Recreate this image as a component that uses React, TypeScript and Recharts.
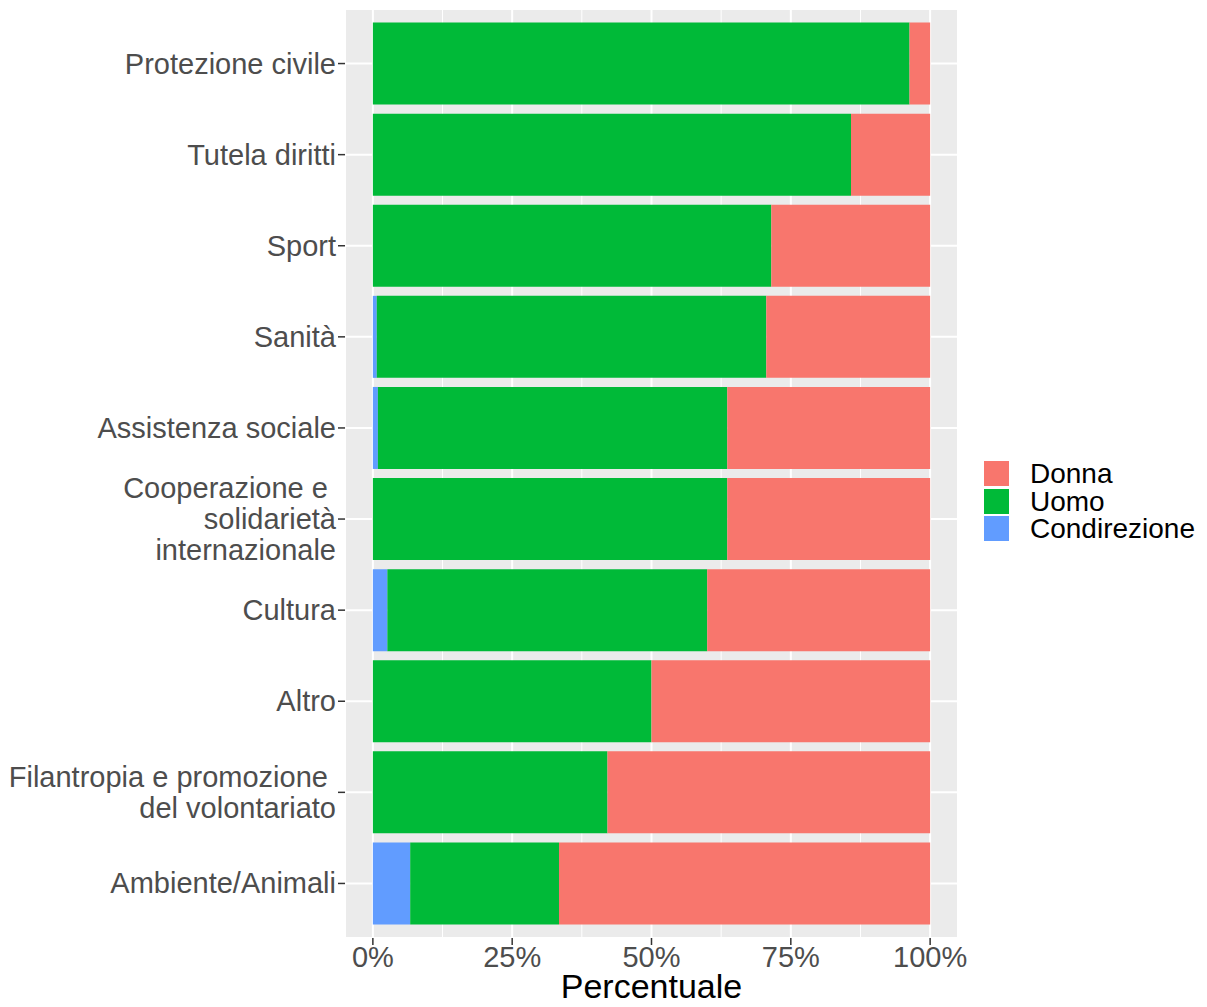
import { Bar, BarChart, CartesianGrid, XAxis, YAxis } from 'recharts'

const categories = [
  'Protezione civile',
  'Tutela diritti',
  'Sport',
  'Sanità',
  'Assistenza sociale',
  'Cooperazione e \nsolidarietà\ninternazionale',
  'Cultura',
  'Altro',
  'Filantropia e promozione \ndel volontariato',
  'Ambiente/Animali',
]

const condirezione = [0, 0, 0, 0.7, 0.9, 0, 2.6, 0, 0, 6.7]
const uomo = [96.3, 85.8, 71.5, 69.9, 62.7, 63.6, 57.4, 50.0, 42.1, 26.7]
const donna = [3.7, 14.2, 28.5, 29.4, 36.4, 36.4, 40.0, 50.0, 57.9, 66.6]

const majorTicks = [0, 25, 50, 75, 100]
const minorTicks = [12.5, 37.5, 62.5, 87.5]

const series = [
  { key: 'condirezione', name: 'Condirezione', color: '#619CFF' },
  { key: 'uomo', name: 'Uomo', color: '#00BA38' },
  { key: 'donna', name: 'Donna', color: '#F8766D' },
]

const legendOrder = ['donna', 'uomo', 'condirezione']

const data = categories.map((name, i) => ({
  name,
  condirezione: condirezione[i],
  uomo: uomo[i],
  donna: donna[i],
}))

const FONT = '"Liberation Sans", Arial, Helvetica, sans-serif'

function CategoryTick(props: any) {
  const { x, y, payload } = props
  const lines = String(payload.value).split('\n')
  const lh = 31
  const start = -((lines.length - 1) * lh) / 2
  return (
    <text x={x + 1} y={y} textAnchor="end" fill="#4D4D4D" fontSize={29} fontFamily={FONT}>
      {lines.map((l, i) => (
        <tspan key={i} x={x + 1} dy={i === 0 ? start + 10 : lh} style={{ whiteSpace: 'pre' }}>
          {l}
        </tspan>
      ))}
    </text>
  )
}

export default function App() {
  return (
    <div
      style={{
        position: 'absolute',
        left: 0,
        top: 0,
        width: 1207,
        height: 1007,
        background: '#fff',
        fontFamily: FONT,
      }}
    >
      <BarChart
        width={1207}
        height={1007}
        data={data}
        layout="vertical"
        barCategoryGap="5%"
        margin={{ top: 9, right: 249, bottom: 0, left: 0 }}
      >
        <CartesianGrid fill="#EBEBEB" stroke="#FFFFFF" strokeWidth={2} />
        <CartesianGrid xAxisId="minor" stroke="#FFFFFF" strokeWidth={1} horizontal={false} />
        <XAxis
          type="number"
          domain={[-5, 105]}
          ticks={majorTicks}
          allowDataOverflow
          tickFormatter={(v: number) => `${v}%`}
          axisLine={false}
          tickSize={7}
          tickLine={{ stroke: '#333333', strokeWidth: 1.5 }}
          tick={{ fill: '#4D4D4D', fontSize: 29, fontFamily: FONT }}
          tickMargin={1}
          height={69}
          label={{ value: 'Percentuale', position: 'insideBottom', offset: 9, fontSize: 34, fill: '#000000', fontFamily: FONT }}
        />
        <XAxis xAxisId="minor" type="number" domain={[-5, 105]} ticks={minorTicks} allowDataOverflow hide />
        <YAxis
          type="category"
          dataKey="name"
          width={345}
          axisLine={false}
          tickSize={7}
          tickMargin={3}
          tickLine={{ stroke: '#333333', strokeWidth: 1.5 }}
          tick={<CategoryTick />}
          interval={0}
          padding={{ top: 9, bottom: 9 }}
        />
        {series.map((s) => (
          <Bar key={s.key} dataKey={s.key} name={s.name} stackId="a" fill={s.color} isAnimationActive={false} />
        ))}
      </BarChart>
      <div style={{ position: 'absolute', left: 984, top: 460 }}>
        {legendOrder.map((k) => {
          const s = series.find((x) => x.key === k)!
          return (
            <div key={k} style={{ display: 'flex', alignItems: 'center', height: 27.5 }}>
              <div style={{ width: 25, height: 25, background: s.color }} />
              <span style={{ marginLeft: 21, fontSize: 28, color: '#000', lineHeight: '27px' }}>{s.name}</span>
            </div>
          )
        })}
      </div>
    </div>
  )
}
